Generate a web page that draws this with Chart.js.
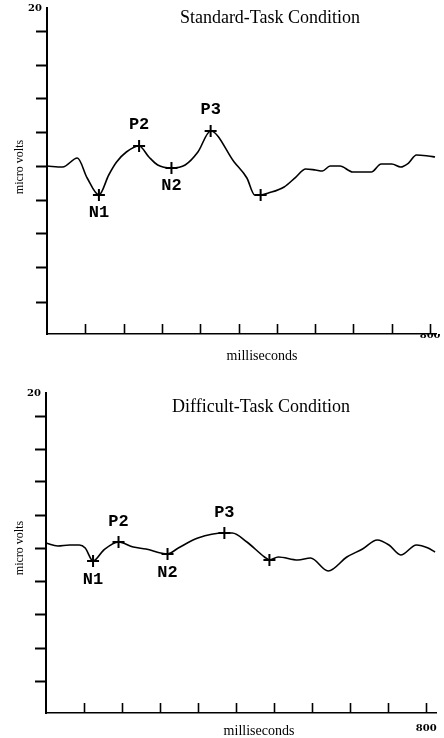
<!DOCTYPE html>
<html><head><meta charset="utf-8">
<script src="https://cdn.jsdelivr.net/npm/chart.js@4"></script>
<style>
html,body{margin:0;padding:0;background:#fff;overflow:hidden;width:444px;height:738px}
.wrap{position:relative;width:444px;height:369px}
canvas{display:block}
</style></head><body>
<div class="wrap"><canvas id="c1" width="444" height="369"></canvas></div>
<div class="wrap"><canvas id="c2" width="444" height="369"></canvas></div>
<script>
// ---- text ----
const stdTitle = 'Standard-Task Condition';
const difTitle = 'Difficult-Task Condition';
const xTitle = 'milliseconds';
const yTitle = 'micro volts';
const xTickLabel = '800';
const yTickLabel = '20';
const peakLabels = ['N1', 'P2', 'N2', 'P3', ''];

// ---- ticks ----
const xTicks = [0, 80, 160, 240, 320, 400, 480, 560, 640, 720, 800];
const yTicks = [-16.1, -11.9, -7.7, -3.6, 0.6, 4.7, 8.9, 13.0, 17.1, 20];

// ---- Standard-task waveform (ms, microvolts) ----
const stdMs = [0, 32.7, 63.4, 83.9, 108.4, 128.9, 145.3, 165.7, 192.3, 212.8, 231.2, 259.9, 288.5, 315.1, 341.7,
  390.8, 417.4, 433.8, 446.1, 462.4, 495.2, 519.7, 540.2, 560.6, 575.0, 591.3, 611.8, 638.4, 677.3, 697.7,
  720.2, 738.6, 755.0, 771.4, 795.9, 810.3];
const stdUv = [0.61, 0.49, 1.59, -0.86, -2.94, -0.49, 1.10, 2.33, 3.07, 1.72, 0.74, 0.37, 0.74, 2.33, 4.91,
  1.10, -0.86, -2.94, -2.94, -2.70, -1.96, -0.74, 0.25, 0.12, 0.0, 0.61, 0.61, -0.12, -0.12, 0.86,
  0.86, 0.49, 0.98, 1.96, 1.84, 1.72];
const stdPeakMs = [108.4, 192.3, 259.9, 341.7, 446.1];
const stdPeakUv = [-2.94, 3.07, 0.37, 4.91, -2.94];

// ---- Difficult-task waveform (ms, microvolts) ----
const difMs = [0, 24.7, 49.5, 70.1, 82.5, 99.0, 121.6, 152.6, 183.5, 210.3, 255.7, 278.4, 319.6, 375.3, 391.8,
  422.7, 459.8, 470.1, 488.7, 529.9, 556.7, 593.8, 633.0, 666.0, 697.0, 721.7, 746.4, 779.4, 804.0, 818.6];
const difUv = [1.25, 0.875, 1.0, 1.0, 0.625, -1.0, 0.375, 1.375, 0.75, 0.5, -0.125, 0.625, 1.875, 2.5, 2.5,
  1.375, -0.5, -0.875, -0.5, -0.875, -0.625, -2.25, -0.5, 0.5, 1.625, 1.0, -0.25, 1.0, 0.625, 0.125];
const difPeakMs = [99.0, 152.6, 255.7, 375.3, 470.1];
const difPeakUv = [-1.0, 1.375, -0.125, 2.5, -0.875];

const decor = {
  id: 'decor',
  afterDraw(chart) {
    const c = chart.options.plugins.decor;
    const ctx = chart.ctx, area = chart.chartArea, xs = chart.scales.x;
    ctx.save();
    ctx.strokeStyle = '#000'; ctx.fillStyle = '#000';
    // inward x tick marks
    ctx.lineWidth = 1.6;
    xTicks.forEach(v => {
      if (v === 0) return;
      const px = Math.round(xs.getPixelForValue(v)) + 0.5;
      ctx.beginPath(); ctx.moveTo(px, area.bottom); ctx.lineTo(px, area.bottom - 10); ctx.stroke();
    });
    // chart title
    ctx.textAlign = 'center'; ctx.textBaseline = 'middle';
    ctx.font = '18px "Liberation Serif"';
    ctx.fillText(c.title, c.titleX, c.titleY);
    // x title
    ctx.font = '14px "Liberation Serif"';
    ctx.fillText(xTitle, c.xtX, c.xtY);
    // y title
    ctx.save();
    ctx.translate(c.ytX, c.ytY); ctx.rotate(-Math.PI / 2);
    ctx.font = '12px "Liberation Serif"';
    ctx.fillText(yTitle, 0, 0);
    ctx.restore();
    // peak labels
    const meta = chart.getDatasetMeta(1);
    ctx.font = 'bold 17px "Liberation Mono"';
    meta.data.forEach((pt, i) => {
      const lab = peakLabels[i];
      if (!lab) return;
      const dy = lab[0] === 'N' ? c.nOff : -c.pOff;
      ctx.fillText(lab, pt.x, pt.y + dy);
    });
    ctx.restore();
  }
};

function makeChart(id, ms, uv, pms, puv, cfg) {
  return new Chart(document.getElementById(id), {
    type: 'line',
    data: {
      datasets: [
        { data: ms.map((x, i) => ({ x, y: uv[i] })), borderColor: '#000', borderWidth: 1.6,
          pointRadius: 0, cubicInterpolationMode: 'monotone', fill: false, order: 2 },
        { data: pms.map((x, i) => ({ x, y: puv[i] })), showLine: false, pointStyle: 'cross',
          pointRadius: 6, pointBorderWidth: 2, pointBorderColor: '#000', borderColor: '#000', order: 1 }
      ]
    },
    options: {
      responsive: false, animation: false, events: [],
      layout: { padding: { left: 0, right: 0, top: cfg.top, bottom: 0 } },
      plugins: { legend: { display: false }, tooltip: { enabled: false }, decor: cfg },
      scales: {
        x: {
          type: 'linear', min: 0, max: cfg.xMax,
          afterBuildTicks: s => { s.ticks = xTicks.map(v => ({ value: v })); },
          afterFit: s => { s.height = 369 - cfg.bottom; s.paddingLeft = 0; s.paddingRight = 0; },
          grid: { display: false, drawTicks: false },
          border: { display: true, color: '#000', width: 1.6 },
          ticks: { autoSkip: false, maxRotation: 0, padding: cfg.xLabPad, color: '#000',
            font: { family: 'DejaVu Serif', size: 10, weight: 'bold' },
            callback: v => (v === 800 ? xTickLabel : '') }
        },
        y: {
          min: -20, max: 20,
          afterBuildTicks: s => { s.ticks = yTicks.map(v => ({ value: v })); },
          afterFit: s => { s.width = cfg.left; s.paddingTop = 0; s.paddingBottom = 0; },
          grid: { drawOnChartArea: false, drawTicks: true, tickLength: 11, tickWidth: 2,
            color: ctx => (ctx.tick && ctx.tick.value === 20 ? 'rgba(0,0,0,0)' : '#000') },
          border: { display: true, color: '#000', width: 2 },
          ticks: { autoSkip: false, padding: -6, color: '#000',
            font: { family: 'DejaVu Serif', size: 10, weight: 'bold' },
            callback: v => (v === 20 ? yTickLabel : '') }
        }
      }
    },
    plugins: [decor]
  });
}

makeChart('c1', stdMs, stdUv, stdPeakMs, stdPeakUv, {
  top: 8, bottom: 334, left: 47, xMax: 812.3, xLabPad: -4.5,
  title: stdTitle, titleX: 270, titleY: 18, xtX: 262, xtY: 356, ytX: 20, ytY: 167, nOff: 18, pOff: 21
});
makeChart('c2', difMs, difUv, difPeakMs, difPeakUv, {
  top: 24, bottom: 344, left: 46, xMax: 820.6, xLabPad: 9.5,
  title: difTitle, titleX: 261, titleY: 38, xtX: 259, xtY: 362, ytX: 20, ytY: 179, nOff: 19, pOff: 20
});
</script>
</body></html>
